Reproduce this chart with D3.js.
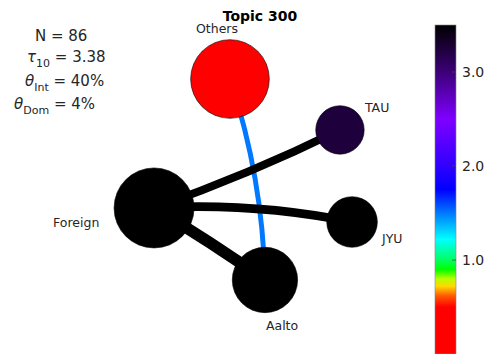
<!DOCTYPE html>
<html>
<head>
<meta charset="utf-8">
<script src="https://cdn.jsdelivr.net/npm/d3@7"></script>
<style>
  body { margin: 0; background: #fff; }
  text { font-family: "DejaVu Sans", sans-serif; fill: #262626; }
</style>
</head>
<body>
<div id="chart"></div>
<script>
// nodes
const nodeNames  = ["Others", "TAU", "Foreign", "JYU", "Aalto"];
const nodeSizes  = [29, 11, 30, 12, 20];
const nodeValues = [0.2, 3.25, 3.5, 3.5, 3.5];
const nodeX = [-0.154, 0.692, -0.738, 0.785, 0.115];   // layout coords
const nodeY = [0.777, 0.385, -0.215, -0.323, -0.769];

// edges (blue one first so black ones sit on top)
const edgeSource  = ["Others", "TAU", "Foreign", "Foreign"];
const edgeTarget  = ["Aalto", "Foreign", "JYU", "Aalto"];
const edgeWeights = [4.3, 7, 7.5, 10];
const edgeValues  = [1.5, 3.5, 3.5, 3.5];

// colour bar
const cbTicks   = [1.0, 2.0, 3.0];
const cmapStops = [0, 0.5, 0.62, 0.72, 0.8, 0.9, 1.0, 1.22, 1.45, 1.75, 2.0, 2.5, 3.0, 3.5];
const cmapColors = ["#ff0000", "#ff0000", "#ff5a00", "#ffd800", "#b8ff00", "#00ff00", "#00ff60",
                    "#00ffff", "#0090ff", "#0000ff", "#3000ff", "#7f00ff", "#3c0078", "#000000"];

const title = "Topic 300";
const statN = 86, statTau = 3.38, statInt = 40, statDom = 4;

// styling / layout
const width = 489, height = 354;
const labelDx = [-34, 25, -101, 30, 1];
const labelDy = [-46, -18, 19, 21, 50];
const edgeBend = [0.075, 0.03, 0.065, 0.02];

const svg = d3.select("#chart").append("svg")
    .attr("width", width)
    .attr("height", height);

const x = d3.scaleLinear().domain([-1, 1]).range([120, 380]);
const y = d3.scaleLinear().domain([-1, 1]).range([310, 50]);
const r = d3.scaleSqrt().domain([0, 30]).range([0, 40]);
const w = d3.scaleLinear().domain([0, 10]).range([0, 11.5]);
const color = d3.scaleLinear().domain(cmapStops).range(cmapColors).clamp(true);

let nodes = nodeNames.map((n, i) => ({
  name: n, size: nodeSizes[i], value: nodeValues[i],
  px: x(nodeX[i]), py: y(nodeY[i]), i: i
}));
let byName = {};
nodes.forEach(n => byName[n.name] = n);

let edges = edgeSource.map((s, i) => ({
  s: byName[s], t: byName[edgeTarget[i]], weight: edgeWeights[i], value: edgeValues[i], bend: edgeBend[i]
}));

function arc3(e) {
  let x1 = e.s.px, y1 = e.s.py, x2 = e.t.px, y2 = e.t.py;
  let mx = (x1 + x2) / 2, my = (y1 + y2) / 2;
  let cx = mx + e.bend * (y2 - y1), cy = my - e.bend * (x2 - x1);
  let p = d3.path();
  p.moveTo(x1, y1);
  p.quadraticCurveTo(cx, cy, x2, y2);
  return p.toString();
}

svg.append("g").selectAll("path")
  .data(edges)
  .enter().append("path")
    .attr("d", arc3)
    .attr("fill", "none")
    .attr("stroke", d => color(d.value))
    .attr("stroke-width", d => w(d.weight));

svg.append("g").selectAll("circle")
  .data(nodes)
  .enter().append("circle")
    .attr("cx", d => d.px)
    .attr("cy", d => d.py)
    .attr("r", d => r(d.size))
    .attr("fill", d => color(d.value))
    .attr("stroke", "#000")
    .attr("stroke-width", 0.6);

svg.append("g").selectAll("text")
  .data(nodes)
  .enter().append("text")
    .attr("x", d => d.px + labelDx[d.i])
    .attr("y", d => d.py + labelDy[d.i])
    .attr("font-size", "12.5px")
    .text(d => d.name);

svg.append("text")
  .attr("x", 260).attr("y", 21)
  .attr("text-anchor", "middle")
  .attr("font-size", "14px")
  .attr("font-weight", "bold")
  .style("fill", "#000")
  .text(title);

// stats block
const stats = svg.append("g").attr("font-size", "15px");
stats.append("text").attr("x", 35).attr("y", 41).text("N = " + statN);

function mathLine(xPos, yPos, sym, sub, rest) {
  let t = stats.append("text").attr("x", xPos).attr("y", yPos);
  t.append("tspan").attr("font-style", "italic").text(sym);
  t.append("tspan").attr("font-size", "11px").attr("dy", 5).text(sub);
  t.append("tspan").attr("dy", -5).text(" = " + rest);
}
mathLine(27, 62, "\u03c4", "10", statTau.toFixed(2));
mathLine(25, 86, "\u03b8", "Int", statInt + "%");
mathLine(14, 109, "\u03b8", "Dom", statDom + "%");

// colour bar
const cb = d3.scaleLinear().domain([0, 3.5]).range([354, 25]);
const cbX = 435, cbW = 21;
const grad = svg.append("defs").append("linearGradient")
  .attr("id", "cbgrad")
  .attr("x1", 0).attr("y1", 1).attr("x2", 0).attr("y2", 0);
grad.selectAll("stop")
  .data(cmapStops)
  .enter().append("stop")
    .attr("offset", d => d / 3.5)
    .attr("stop-color", d => color(d));

svg.append("rect")
  .attr("x", cbX).attr("y", cb(3.5))
  .attr("width", cbW).attr("height", cb(0) - cb(3.5))
  .attr("fill", "url(#cbgrad)")
  .attr("stroke", "#888")
  .attr("stroke-width", 0.6);

const cbAxis = svg.append("g").selectAll("g")
  .data(cbTicks)
  .enter().append("g");
cbAxis.append("line")
  .attr("x1", cbX + cbW - 4).attr("x2", cbX + cbW)
  .attr("y1", d => cb(d)).attr("y2", d => cb(d))
  .attr("stroke", "#444").attr("stroke-width", 0.8);
cbAxis.append("text")
  .attr("x", cbX + cbW + 6)
  .attr("y", d => cb(d))
  .attr("dy", "0.36em")
  .attr("font-size", "14px")
  .text(d => d.toFixed(1));
</script>
</body>
</html>
